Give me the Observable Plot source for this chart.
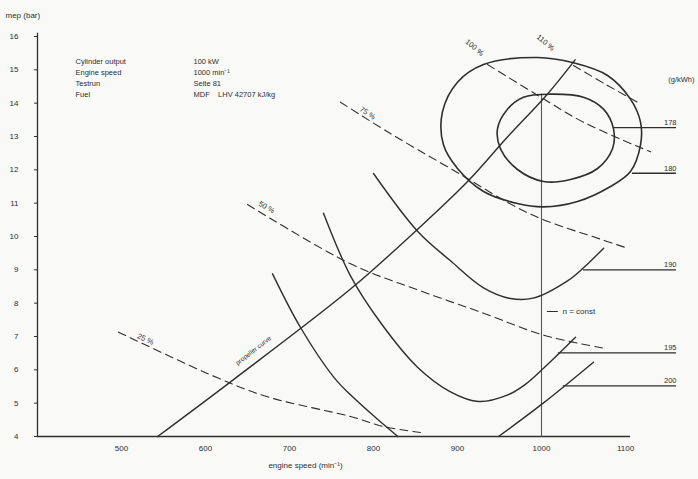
<!DOCTYPE html>
<html><head><meta charset="utf-8">
<script src="https://cdn.jsdelivr.net/npm/d3@7"></script>
<script src="https://cdn.jsdelivr.net/npm/@observablehq/plot@0.6"></script>
<style>body{margin:0;background:#f9f9f8}</style>
</head><body><div id="chart"></div>
<script>
// axis ticks
const xTicks = [500, 600, 700, 800, 900, 1000, 1100];
const yTicks = [4, 5, 6, 7, 8, 9, 10, 11, 12, 13, 14, 15, 16];

// [engine speed (min^-1), mep (bar)]
const propellerCurve = [[543,4],[633,5.7],[773,8.43],[850,10.16],[912,11.65],[960,13.0],[1007,14.27],[1040,15.3]];
const nConst = [[1000,4],[1000,14.27]];

// bsfc contours
const bsfcInner = [[1010.7,14.27],[978.6,14.18],[959.5,13.82],[947.6,13.23],[951.2,12.63],[971.4,12.01],[1002.4,11.65],[1034.5,11.71],[1066.7,12.04],[1084.5,12.63],[1085.7,13.23],[1073.8,13.82],[1050,14.18]];
const bsfcOuter = [[995.2,15.37],[1038.1,15.21],[1078.6,14.83],[1105.9,14.12],[1117.9,13.43],[1117.9,12.75],[1105.9,11.95],[1082.1,11.5],[1042.9,11.05],[1002.4,10.89],[971.4,10.99],[931,11.35],[900,12.04],[883.3,12.75],[882.1,13.74],[900,14.63],[931,15.16]];
const bsfcA = [[800,11.89],[852.4,10.16],[891.7,9.27],[931,8.46],[963,8.14],[990,8.15],[1031,8.67],[1050,9.06],[1074,9.65]];
const bsfcB = [[740.5,10.7],[772.6,8.82],[808.3,7.42],[852.4,6.08],[891.7,5.34],[925,5.05],[960,5.25],[980,5.55],[1002.4,6.05],[1040.5,6.98]];
const bsfcCLeft = [[679.8,8.88],[713.1,7.27],[752.4,5.79],[772.6,5.25],[802.4,4.57],[829,4.0]];
const bsfcCRight = [[948.8,4],[1002.4,5.01],[1061.9,6.23]];

// constant power lines
const power25 = [[496.4,7.13],[614.3,5.76],[673.8,5.19],[772.6,4.6],[811.9,4.3],[855.9,4.12]];
const power50 = [[650,10.96],[772.6,9.18],[852.4,8.4],[931,7.7],[1002.4,7.04],[1073.8,6.65]];
const power75 = [[760.7,14.03],[816.7,13.14],[891.7,12.04],[986.9,10.67],[1070.2,9.92],[1102.4,9.65]];
const power100 = [[935.7,15.16],[995.2,14.24],[1050,13.43],[1129.8,12.54]];
const power110 = [[1038.1,15.13],[1076,14.57],[1114.3,14.03]];

const powerLabels = ["25 %", "50 %", "75 %", "100 %", "110 %"];
const powerLabelAt = [[528.6,6.92],[672.6,10.875],[792.9,13.7],[920.2,15.67],[1004.8,15.82]];
const powerLabelAngle = [25, 30, 33, 40, 40];

const bsfcLabels = ["178", "180", "190", "195", "200"];
const bsfcLevel = [13.265, 11.896, 9.0, 6.51, 5.52];
const bsfcLeaderStart = [1085.7, 1108.3, 1050, 1020, 1026];
const labelEnd = 1160.7;

const infoNames = ["Cylinder output", "Engine speed", "Testrun", "Fuel"];
const infoValues = ["100 kW", "1000 min\u207B\u00B9", "Seite 81", "MDF    LHV 42707 kJ/kg"];

const ink = "#2e2e2e";
const font = "Liberation Sans, Arial, sans-serif";

const leaders = bsfcLabels.map((t, i) => ({t, y: bsfcLevel[i], x1: bsfcLeaderStart[i]}));
const pLabels = powerLabels.map((t, i) => ({t, x: powerLabelAt[i][0], y: powerLabelAt[i][1], r: powerLabelAngle[i]}));

const dash = "8,5";
const solid = {stroke: ink, strokeWidth: 1.4, curve: "catmull-rom"};
const dashed = {stroke: ink, strokeWidth: 1.1, strokeDasharray: dash, curve: "catmull-rom"};

const chart = Plot.plot({
  width: 698, height: 479,
  marginLeft: 37, marginRight: 73, marginTop: 36, marginBottom: 43,
  x: {domain: [400, 1100]},
  y: {domain: [4, 16]},
  style: {background: "#f9f9f8", fontFamily: font, fontSize: "7.5px", color: ink},
  marks: [
    Plot.axisX({ticks: xTicks, tickFormat: d => String(d), tickSize: 0, tickPadding: 9, label: null, fontSize: 8}),
    Plot.axisY({ticks: yTicks, tickFormat: d => String(d), tickSize: 3, tickPadding: 16, label: null, fontSize: 8}),
    Plot.ruleX([400], {y1: 4, y2: 16.1, stroke: ink, strokeWidth: 1.3}),
    Plot.ruleY([4], {x1: 400, x2: 1106, stroke: ink, strokeWidth: 1.3}),
    // n = const
    Plot.line(nConst, {stroke: "#555", strokeWidth: 1.1}),
    Plot.ruleY([7.75], {x1: 1007, x2: 1020, stroke: ink, strokeWidth: 1}),
    Plot.text(["n = const"], {x: 1025, y: 7.75, textAnchor: "start", fontSize: 8, fill: ink}),
    // propeller curve
    Plot.line(propellerCurve, solid),
    Plot.text(["propeller curve"], {x: 657, y: 6.58, rotate: -38, fontSize: 6.5, fill: ink}),
    // power lines
    Plot.line(power25, dashed),
    Plot.line(power50, dashed),
    Plot.line(power75, dashed),
    Plot.line(power100, dashed),
    Plot.line(power110, dashed),
    Plot.text(pLabels, {x: "x", y: "y", text: "t", rotate: "r", fontSize: 7.5, fill: ink}),
    // bsfc
    Plot.line(bsfcInner, {...solid, strokeWidth: 1.6, curve: "catmull-rom-closed"}),
    Plot.line(bsfcOuter, {...solid, strokeWidth: 1.6, curve: "catmull-rom-closed"}),
    Plot.line(bsfcA, solid),
    Plot.line(bsfcB, solid),
    Plot.line(bsfcCLeft, solid),
    Plot.line(bsfcCRight, solid),
    Plot.ruleY(leaders, {y: "y", x1: "x1", x2: labelEnd, stroke: ink, strokeWidth: 1.4}),
    Plot.text(leaders, {x: labelEnd, y: "y", text: "t", textAnchor: "end", dy: -5, fontSize: 7.5, fill: ink}),
    Plot.text(["(g/kWh)"], {frameAnchor: "top-right", dx: 69, dy: 40, textAnchor: "end", fontSize: 7.5, fill: ink}),
    // info block
    Plot.text([infoNames.join("\n")], {frameAnchor: "top-left", dx: 38, dy: 20, textAnchor: "start", lineAnchor: "top", lineHeight: 1.45, fontSize: 7.5, fill: ink}),
    Plot.text([infoValues.join("\n")], {frameAnchor: "top-left", dx: 156, dy: 20, textAnchor: "start", lineAnchor: "top", lineHeight: 1.45, fontSize: 7.5, fill: ink}),
    // axis titles
    Plot.text(["mep (bar)"], {frameAnchor: "top-left", dx: -32, dy: -24, textAnchor: "start", fontSize: 8, fill: ink}),
    Plot.text(["engine speed (min\u207B\u00B9)"], {frameAnchor: "bottom", dx: -26, dy: 31, fontSize: 8, fill: ink})
  ]
});
document.getElementById("chart").append(chart);
</script>
</body></html>
